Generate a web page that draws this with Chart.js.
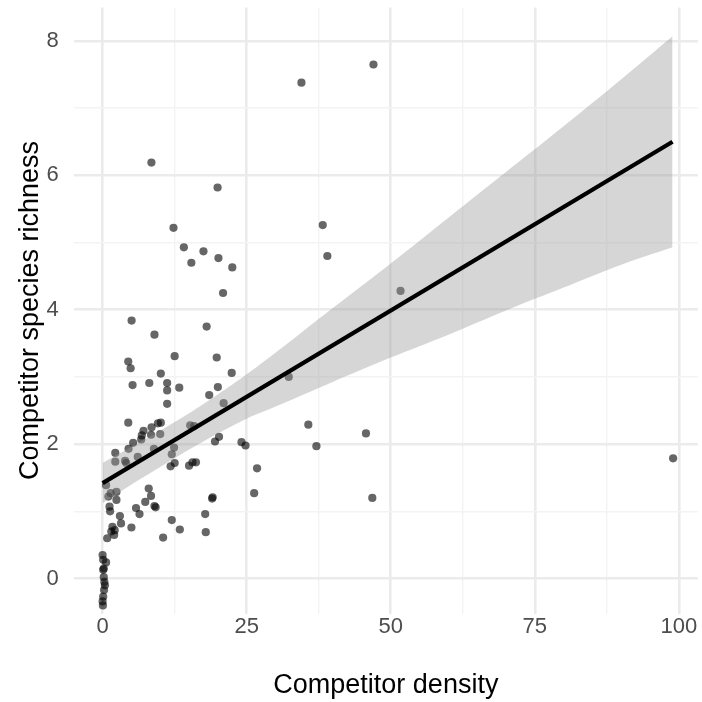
<!DOCTYPE html>
<html>
<head>
<meta charset="utf-8">
<script src="https://cdn.jsdelivr.net/npm/chart.js@4/dist/chart.umd.min.js"></script>
<style>
    html, body { margin: 0; padding: 0; background: #ffffff; }
    #wrap { width: 702px; height: 702px; }
</style>
</head>
<body>
<div id="wrap"><canvas id="richnessChart" width="702" height="702"></canvas></div>
<script>
// sites: competitor density vs competitor species richness
const densityValues = [
    8.47, 34.5, 47.0, 99.0, 12.3, 14.1, 15.4, 17.5, 19.95, 20.1, 22.5, 20.9,
    38.2, 39.0, 51.7, 32.3, 35.7, 37.1, 45.7, 46.8, 26.8, 26.3,
    5.03, 9.0, 18.05, 4.45, 4.86, 12.5, 10.1, 19.8, 22.4, 5.2, 8.1, 11.2,
    11.2, 13.3, 11.2, 18.5, 20.0, 21.0, 4.45, 9.6, 10.1, 7.1, 8.5, 6.8,
    8.4, 10.0, 5.3, 6.7, 4.5, 2.2, 8.9, 2.2, 3.9, 6.1, 12.4, 12.0,
    15.2, 15.9, 12.5, 11.8, 15.0, 15.6, 16.2, 19.5, 20.2, 24.1, 24.8, 19.1,
    19.0, 17.8, 17.9, 8.0, 8.4, 7.4, 9.0, 9.2, 5.8, 6.4, 5.0, 12.0,
    13.4, 10.5, 1.2, 1.3, 2.4, 2.4, 1.4, 3.0, 3.2, 1.7, 2.1, 1.5,
    2.0, 0.8, 0.6, 4.1, 1.0,
    0.0, 0.1, 0.6, 0.1, 0.2, 0.2, 0.4, 0.25, 0.1, 0.0, 0.05, 0.3
];
const richnessValues = [
    6.19, 7.38, 7.65, 1.79, 5.22, 4.93, 4.70, 4.87, 5.82, 4.77, 4.63, 4.25,
    5.26, 4.80, 4.28, 3.00, 2.29, 1.97, 2.16, 1.20, 1.64, 1.27,
    3.84, 3.63, 3.75, 3.23, 3.13, 3.31, 3.05, 3.29, 3.06, 2.88, 2.91, 2.91,
    2.80, 2.84, 2.60, 2.73, 2.85, 2.61, 2.32, 2.31, 2.32, 2.20, 2.25, 2.13,
    2.14, 2.15, 2.02, 2.07, 1.93, 1.87, 1.93, 1.74, 1.75, 1.81, 1.95, 1.85,
    2.28, 2.27, 1.72, 1.67, 1.68, 1.73, 1.73, 2.04, 2.11, 2.03, 1.98, 1.21,
    1.19, 0.96, 0.69, 1.34, 1.23, 1.14, 1.08, 1.06, 1.05, 0.96, 0.76, 0.87,
    0.73, 0.61, 1.07, 1.00, 1.17, 1.29, 1.27, 0.93, 0.82, 0.77, 0.72, 0.70,
    0.65, 0.60, 1.39, 1.72, 1.22,
    0.35, 0.28, 0.24, 0.13, 0.15, 0.02, -0.10, -0.17, -0.27, -0.34, -0.40, -0.05
];

// fitted line (lm) end points
const fitDensity = [0, 98.9];
const fitRichness = [1.42, 6.50];

// confidence band edges
const bandDensity = [0, 5, 10, 15, 20, 25, 30, 40, 50, 60, 70, 80, 90, 98.9];
const bandUpper = [1.72, 1.96, 2.20, 2.46, 2.74, 3.04, 3.36, 4.03, 4.69, 5.37, 6.05, 6.73, 7.43, 8.07];
const bandLower = [1.12, 1.40, 1.66, 1.92, 2.16, 2.38, 2.56, 2.93, 3.29, 3.63, 3.99, 4.33, 4.67, 4.93];

const xTickLabels = [0, 25, 50, 75, 100];
const yTickLabels = [0, 2, 4, 6, 8];

function toPoints(xs, ys) {
    return xs.map((x, i) => ({ x: x, y: ys[i] }));
}

const gridMajor = '#ebebeb';
const gridMinor = '#f3f3f3';

function makeGrid(majors) {
    return {
        drawTicks: false,
        color: ctx => majors.includes(ctx.tick.value) ? gridMajor : gridMinor,
        lineWidth: ctx => majors.includes(ctx.tick.value) ? 2.6 : 1.4
    };
}

const config = {
    type: 'scatter',
    data: {
        datasets: [
            {
                label: 'fit',
                data: toPoints(fitDensity, fitRichness),
                showLine: true,
                borderColor: '#000000',
                borderWidth: 4.2,
                pointRadius: 0,
                fill: false
            },
            {
                label: 'upper',
                data: toPoints(bandDensity, bandUpper),
                showLine: true,
                borderWidth: 0,
                borderColor: 'rgba(0,0,0,0)',
                backgroundColor: 'rgba(153,153,153,0.4)',
                pointRadius: 0,
                tension: 0.3,
                fill: '+1'
            },
            {
                label: 'lower',
                data: toPoints(bandDensity, bandLower),
                showLine: true,
                borderWidth: 0,
                borderColor: 'rgba(0,0,0,0)',
                pointRadius: 0,
                tension: 0.3,
                fill: false
            },
            {
                label: 'sites',
                data: toPoints(densityValues, richnessValues),
                backgroundColor: 'rgba(0,0,0,0.6)',
                borderWidth: 0,
                pointRadius: 4.1
            }
        ]
    },
    options: {
        responsive: false,
        animation: false,
        layout: { padding: { top: 7.4, right: 0, bottom: 0, left: 0 } },
        plugins: {
            legend: { display: false },
            tooltip: { enabled: false }
        },
        scales: {
            x: {
                type: 'linear',
                min: -5,
                max: 103.3,
                border: { display: false },
                grid: makeGrid(xTickLabels),
                afterFit: scale => {
                    // fixed axis band under the panel, no label overhang padding
                    scale.height = 88.5;
                    scale.paddingLeft = 0;
                    scale.paddingRight = 0;
                },
                ticks: {
                    stepSize: 12.5,
                    includeBounds: false,
                    autoSkip: false,
                    maxRotation: 0,
                    padding: 0,
                    color: '#4d4d4d',
                    font: { family: 'Liberation Sans', size: 22 },
                    callback: v => xTickLabels.includes(v) ? String(v) : ''
                },
                title: {
                    display: true,
                    text: 'Competitor density',
                    color: '#000000',
                    font: { family: 'Liberation Sans', size: 27 },
                    padding: { top: 0, bottom: 0 }
                }
            },
            y: {
                type: 'linear',
                // range is not a whole number of steps, so ticks stay on integers
                min: -0.52,
                max: 8.5,
                border: { display: false },
                grid: makeGrid(yTickLabels),
                afterFit: scale => {
                    scale.width = 73.8;
                    scale.paddingTop = 0;
                    scale.paddingBottom = 0;
                },
                ticks: {
                    stepSize: 1,
                    includeBounds: false,
                    autoSkip: false,
                    padding: 15,
                    color: '#4d4d4d',
                    font: { family: 'Liberation Sans', size: 22 },
                    callback: v => yTickLabels.includes(v) ? String(v) : ''
                },
                title: {
                    display: true,
                    text: 'Competitor species richness',
                    color: '#000000',
                    font: { family: 'Liberation Sans', size: 27 },
                    padding: { top: 14, bottom: 0 }
                }
            }
        }
    }
};

const ctx = document.getElementById('richnessChart').getContext('2d');
const richnessChart = new Chart(ctx, config);
</script>
</body>
</html>
